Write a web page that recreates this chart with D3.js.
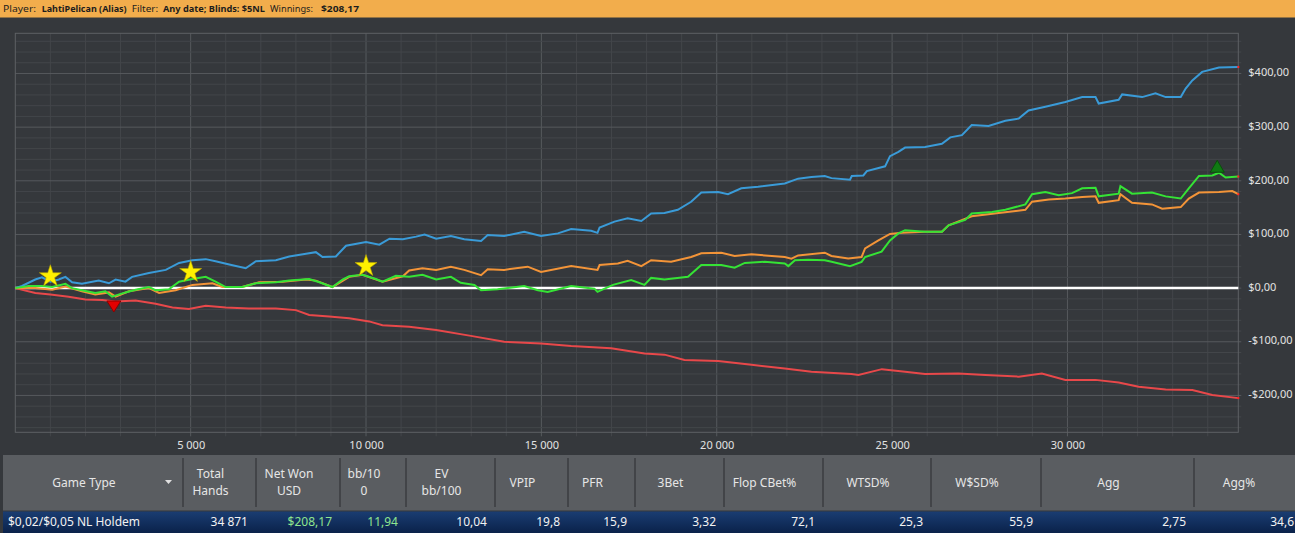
<!DOCTYPE html>
<html>
<head>
<meta charset="utf-8">
<script src="https://cdn.jsdelivr.net/npm/d3@7"></script>
<style>
  html, body { margin: 0; padding: 0; background: #35383c; overflow: hidden; }
  svg { display: block; font-family: "Noto Sans", "Open Sans", sans-serif; }
</style>
</head>
<body>
<script>
// Winnings: [hand number, dollars]
const showdownWon = [
  [0,0],[190,4],[570,16],[760,20],[1000,12],[1240,16],[1430,21],[1620,11],[1900,8],[2380,14],[2670,9],
  [2860,16],[3140,12],[3330,21],[3810,28],[4290,34],[4670,47],[5050,52],[5430,54],[5710,50],[6100,44],
  [6570,37],[6860,50],[7430,52],[7810,59],[8290,64],[8570,67],[8760,58],[9140,59],[9430,79],[10000,86],
  [10380,81],[10670,92],[11050,91],[11430,96],[11670,100],[12000,92],[12420,97],[12800,91],[13280,88],
  [13470,99],[13940,97],[14510,105],[14990,97],[15470,102],[15850,110],[16420,107],[16600,103],[16660,113],
  [17085,124],[17460,130],[17850,125],[18130,139],[18510,140],[18890,146],[19270,161],[19560,178],
  [20040,179],[20320,175],[20700,186],[21180,189],[21940,195],[22320,204],[22700,207],[23080,209],
  [23270,205],[23800,202],[23850,209],[24180,210],[24280,218],[24800,227],[24940,246],[25180,254],
  [25370,262],[25940,263],[26420,269],[26660,281],[26990,285],[27270,304],[27750,302],[28230,312],
  [28610,316],[28890,331],[29370,338],[29940,347],[30420,356],[30800,356],[30890,344],[31460,351],
  [31560,361],[32130,356],[32510,363],[32800,356],[33230,356],[33370,372],[33560,387],[33840,403],
  [34320,411],[34871,412]
];
const netWon = [
  [0,0],[380,4],[760,4],[1050,2],[1430,8],[1620,0],[1900,-4],[2280,-9],[2570,-6],[2760,-16],[3140,-8],
  [3430,-3],[3810,2],[4000,-4],[4380,-2],[4670,12],[5050,17],[5430,21],[5710,12],[6000,2],[6470,2],
  [6860,9],[7430,11],[7810,14],[8380,17],[8670,11],[9040,2],[9330,16],[9520,22],[9900,25],[10280,17],
  [10470,12],[10850,23],[11230,21],[11610,25],[12000,16],[12420,21],[12700,10],[13090,6],[13280,-4],
  [13750,-2],[14510,4],[14900,-4],[15180,-7],[15850,4],[16510,-1],[16600,-7],[17040,6],[17560,15],
  [17940,6],[18130,19],[18510,16],[19180,21],[19560,43],[20130,43],[20510,38],[20800,47],[21370,49],
  [21940,46],[22040,41],[22230,52],[22610,53],[23080,52],[23277,49],[23800,41],[24130,49],[24230,58],
  [24700,68],[24940,89],[25180,102],[25370,108],[25940,105],[26420,105],[26610,117],[27085,127],
  [27270,139],[27850,142],[28230,146],[28800,156],[28990,175],[29370,179],[29750,173],[30130,177],
  [30420,186],[30800,187],[30890,171],[31460,176],[31510,190],[31840,176],[32410,178],[32800,171],
  [33230,167],[33460,186],[33750,209],[34130,210],[34320,215],[34510,206],[34871,208]
];
const allInEV = [
  [0,0],[570,0],[1050,-3],[1430,3],[1900,-6],[2280,-12],[2670,-8],[2860,-16],[3240,-6],[3810,0],
  [4100,-9],[4570,-4],[5050,6],[5620,9],[5900,2],[6470,2],[6950,11],[7620,12],[8290,16],[8570,14],
  [9040,2],[9520,21],[9900,25],[10470,12],[11050,22],[11230,33],[11610,37],[12000,34],[12420,40],
  [12800,34],[13280,24],[13470,35],[13940,34],[14610,40],[14990,30],[15850,41],[16600,34],[16660,43],
  [17180,46],[17460,51],[17850,41],[18130,52],[18700,49],[19270,58],[19560,65],[20130,66],[20510,60],
  [20990,63],[21940,58],[22130,55],[22320,61],[23080,66],[23270,60],[23750,55],[24130,58],[24230,74],
  [24610,89],[24940,101],[25280,103],[25940,105],[26420,105],[26610,117],[27270,134],[28040,140],
  [28800,146],[28990,161],[29470,165],[29940,167],[30420,170],[30800,171],[30890,159],[31460,164],
  [31510,175],[31840,159],[32410,156],[32700,148],[33230,151],[33460,167],[33750,178],[34320,179],
  [34700,181],[34871,175]
];
const nonShowdownWon = [
  [0,0],[570,-9],[1000,-12],[1520,-16],[2000,-21],[2480,-22],[2860,-25],[3430,-23],[4000,-29],
  [4480,-36],[4950,-39],[5430,-33],[6000,-36],[6660,-38],[7430,-38],[8000,-41],[8380,-50],[8950,-53],
  [9520,-56],[10090,-62],[10470,-69],[11230,-72],[12000,-78],[12990,-89],[13940,-100],[14990,-103],
  [15850,-108],[16990,-112],[17940,-122],[18510,-124],[19080,-134],[20040,-136],[20990,-143],
  [21940,-150],[22700,-156],[23840,-160],[24040,-162],[24710,-151],[25370,-156],[25940,-160],
  [26890,-159],[27660,-162],[28610,-165],[29270,-159],[29940,-171],[30800,-171],[31460,-176],
  [32030,-184],[32800,-189],[33560,-190],[34130,-199],[34871,-205]
];

// milestone stars, biggest downswing / upswing markers
const milestones = [[1000, 22], [5000, 30], [10000, 41]];
const lowPoint = [2810, -24];
const highPoint = [34270, 216];

const yTicks = [-200, -100, 0, 100, 200, 300, 400];
const xTicks = [5000, 10000, 15000, 20000, 25000, 30000];

// stats table
const columns = ['Game Type', 'Total\nHands', 'Net Won\nUSD', 'bb/10\n0', 'EV\nbb/100', 'VPIP', 'PFR',
  '3Bet', 'Flop CBet%', 'WTSD%', 'W$SD%', 'Agg', 'Agg%'];
const colEdges = [3, 183, 256, 340, 406, 495, 568, 635, 724, 823, 931, 1041, 1194, 1302];
const rowValues = ['$0,02/$0,05 NL Holdem', '34 871', '$208,17', '11,94', '10,04', '19,8', '15,9',
  '3,32', '72,1', '25,3', '55,9', '2,75', '34,6'];
const greenCols = [2, 3];

// filter bar: text, left x, width, bold
const headerBits = [
  ['Player:', 3, 33, false], ['LahtiPelican (Alias)', 41.7, 85, true], ['Filter:', 131.7, 26.5, false],
  ['Any date; Blinds: $5NL', 163, 102, true], ['Winnings:', 270, 43, false], ['$208,17', 321, 38, true]
];

const W = 1295, H = 533;
const plot = { left: 15.3, right: 1238.3, top: 33.3, bottom: 432.3 };

const locale = d3.formatLocale({ decimal: ',', thousands: ' ', grouping: [3], currency: ['$', ''], minus: '-' });
const fmtMoney = locale.format('$,.2f');
const fmtHands = locale.format(',');

const svg = d3.select('body').append('svg')
  .attr('width', W)
  .attr('height', H);

const x = d3.scaleLinear().domain([0, 34871]).range([plot.left, plot.right]);
const y = d3.scaleLinear().domain([-268.7, 474.9]).range([plot.bottom, plot.top]);

// header bar, one text line with squeezed pieces
svg.append('rect').attr('width', W).attr('height', 17.5).attr('fill', '#f2ad4c');
svg.append('text')
  .attr('y', 12)
  .attr('font-size', 9.5)
  .attr('fill', '#1d1d1d')
  .selectAll('tspan')
  .data(headerBits)
  .enter()
  .append('tspan')
  .attr('x', d => d[1])
  .attr('font-weight', d => d[3] ? 700 : 400)
  .attr('textLength', d => d[2])
  .attr('lengthAdjust', 'spacingAndGlyphs')
  .text(d => d[0]);

// gridlines
const minorX = d3.range(1000, 35000, 1000);
const minorY = d3.range(-260, 475, 20);
const grid = svg.append('g');
grid.selectAll('.gx')
  .data(minorX)
  .enter()
  .append('line')
  .attr('x1', d => x(d)).attr('x2', d => x(d))
  .attr('y1', plot.top).attr('y2', plot.bottom + 4)
  .attr('stroke', d => d % 5000 === 0 ? '#56595d' : '#43464a')
  .attr('stroke-width', 1);
grid.selectAll('.gy')
  .data(minorY)
  .enter()
  .append('line')
  .attr('x1', plot.left).attr('x2', plot.right + 3)
  .attr('y1', d => y(d)).attr('y2', d => y(d))
  .attr('stroke', d => d % 100 === 0 ? '#56595d' : '#43464a')
  .attr('stroke-width', 1);

// frame
svg.append('rect')
  .attr('x', plot.left).attr('y', plot.top)
  .attr('width', plot.right - plot.left).attr('height', plot.bottom - plot.top)
  .attr('fill', 'none')
  .attr('stroke', '#5e6165');

// axes labels
const yAxis = d3.axisRight(y)
  .tickValues(yTicks)
  .tickSize(0)
  .tickPadding(10)
  .tickFormat(fmtMoney);
svg.append('g')
  .attr('transform', `translate(${plot.right},0)`)
  .call(yAxis)
  .call(g => g.select('.domain').remove())
  .selectAll('text')
  .attr('fill', '#e2e2e2')
  .attr('font-size', 11)
  .attr('font-family', '"Noto Sans", sans-serif')
  .attr('dy', '0.2em');

const xAxis = d3.axisBottom(x)
  .tickValues(xTicks)
  .tickSize(0)
  .tickPadding(9)
  .tickFormat(fmtHands);
svg.append('g')
  .attr('transform', `translate(0,${plot.bottom})`)
  .call(xAxis)
  .call(g => g.select('.domain').remove())
  .selectAll('text')
  .attr('fill', '#e2e2e2')
  .attr('font-size', 11)
  .attr('font-family', '"Noto Sans", sans-serif');

// zero line
svg.append('line')
  .attr('x1', plot.left).attr('x2', plot.right)
  .attr('y1', y(0)).attr('y2', y(0))
  .attr('stroke', '#ffffff')
  .attr('stroke-width', 2.5);

// lines
const line = d3.line().x(d => x(d[0])).y(d => y(d[1]));
const series = [
  { data: nonShowdownWon, color: '#e8484a' },
  { data: showdownWon, color: '#3a9bd8' },
  { data: allInEV, color: '#f39438' },
  { data: netWon, color: '#35e335' }
];
svg.append('g')
  .selectAll('path')
  .data(series)
  .enter()
  .append('path')
  .attr('d', d => line(d.data))
  .attr('fill', 'none')
  .attr('stroke', d => d.color)
  .attr('stroke-width', 2)
  .attr('stroke-linejoin', 'miter');

// little red end dots
svg.append('g')
  .selectAll('rect')
  .data(series)
  .enter()
  .append('rect')
  .attr('x', d => x(d.data[d.data.length - 1][0]) - 1)
  .attr('y', d => y(d.data[d.data.length - 1][1]) - 1)
  .attr('width', 2).attr('height', 2)
  .attr('fill', '#ff2020');

// stars
const star = d3.symbol().type(d3.symbolStar).size(150);
svg.append('g')
  .selectAll('path')
  .data(milestones)
  .enter()
  .append('path')
  .attr('transform', d => `translate(${x(d[0])},${y(d[1])})`)
  .attr('d', star)
  .attr('fill', '#fff000')
  .attr('stroke', '#b8a600')
  .attr('stroke-width', 0.6);

// low / high markers
const lx = x(lowPoint[0]), ly = y(lowPoint[1]);
svg.append('path')
  .attr('d', `M${lx - 7},${ly} L${lx + 7},${ly} L${lx},${ly + 11} Z`)
  .attr('fill', '#e30000')
  .attr('stroke', '#8a0000')
  .attr('stroke-width', 1);
const hx = x(highPoint[0]), hy = y(highPoint[1]);
svg.append('path')
  .attr('d', `M${hx - 7},${hy} L${hx + 7},${hy} L${hx},${hy - 12} Z`)
  .attr('fill', '#0f7a12')
  .attr('stroke', '#0a4f0b')
  .attr('stroke-width', 1);

// table header
const table = svg.append('g');
table.append('rect')
  .attr('x', 3).attr('y', 455).attr('width', W - 3).attr('height', 55.5)
  .attr('fill', '#5a5d61');
const cols = columns.map((c, i) => ({ label: c, l: colEdges[i], r: colEdges[i + 1] }));
table.selectAll('.sep')
  .data(colEdges.slice(1, -1))
  .enter()
  .append('line')
  .attr('x1', d => d).attr('x2', d => d)
  .attr('y1', 458).attr('y2', 507)
  .attr('stroke', '#333538')
  .attr('stroke-width', 1.2);
const heads = table.selectAll('.head')
  .data(cols)
  .enter()
  .append('text')
  .attr('text-anchor', 'middle')
  .attr('font-size', 12)
  .attr('fill', '#e6e6e6');
heads.each(function (d) {
  const lines = d.label.split('\n');
  const cx = (d.l + d.r) / 2 - 9;
  const y0 = lines.length === 1 ? 487 : 478;
  d3.select(this).selectAll('tspan')
    .data(lines)
    .enter()
    .append('tspan')
    .attr('x', cx)
    .attr('y', (t, i) => y0 + i * 17)
    .text(t => t);
});
// sort arrow on Game Type
table.append('path')
  .attr('d', 'M165,480 L172,480 L168.5,484 Z')
  .attr('fill', '#e0e0e0');

// data row
const grad = svg.append('defs').append('linearGradient')
  .attr('id', 'rowGrad').attr('x1', 0).attr('x2', 0).attr('y1', 0).attr('y2', 1);
grad.append('stop').attr('offset', 0).attr('stop-color', '#1a3d72');
grad.append('stop').attr('offset', 1).attr('stop-color', '#0a2149');
table.append('rect')
  .attr('x', 3).attr('y', 511.5).attr('width', W - 3).attr('height', 22)
  .attr('fill', 'url(#rowGrad)');
table.selectAll('.val')
  .data(rowValues)
  .enter()
  .append('text')
  .attr('x', (d, i) => i === 0 ? 8 : colEdges[i + 1] - 8)
  .attr('y', 526)
  .attr('text-anchor', (d, i) => i === 0 ? 'start' : 'end')
  .attr('font-size', 12)
  .attr('fill', (d, i) => greenCols.includes(i) ? '#8fe58f' : '#f2f2f2')
  .text(d => d);
</script>
</body>
</html>
